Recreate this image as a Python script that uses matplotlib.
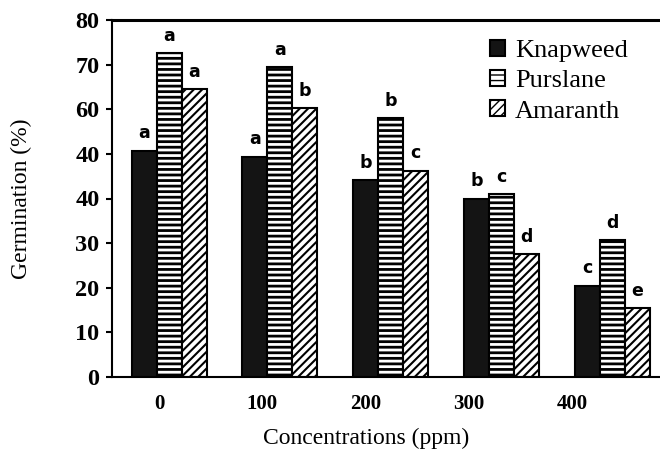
import numpy as np
import matplotlib
matplotlib.use("Agg")
import matplotlib.pyplot as plt

# Data
concentrations = ["0", "100", "200", "300", "400"]
series_names = ["Knapweed", "Purslane", "Amaranth"]
knapweed = [50.7, 49.4, 44.1, 40.0, 20.5]
purslane = [72.5, 69.5, 58.0, 41.0, 30.6]
amaranth = [64.5, 60.3, 46.2, 27.6, 15.4]
letters_knapweed = ["a", "a", "b", "b", "c"]
letters_purslane = ["a", "a", "b", "c", "d"]
letters_amaranth = ["a", "b", "c", "d", "e"]
ytick_values = [0, 10, 20, 30, 40, 50, 60, 70, 80]
ytick_labels = ["0", "10", "20", "30", "40", "40", "60", "70", "80"]

fig = plt.figure(figsize=(6.6, 4.58), dpi=100)
ax = fig.add_axes([112/660, 1-377/458, 548/660, 357/458])

x = np.arange(len(concentrations))
w = 0.226
series = [knapweed, purslane, amaranth]
letters = [letters_knapweed, letters_purslane, letters_amaranth]
styles = [
    dict(facecolor="#141414", edgecolor="black", hatch=None),
    dict(facecolor="white", edgecolor="black", hatch="---"),
    dict(facecolor="white", edgecolor="black", hatch="////"),
]
hatch_lw = [1.0, 2.0, 1.5]
handles = []
for i, (vals, st, name, lets) in enumerate(zip(series, styles, series_names, letters)):
    with plt.rc_context({"hatch.linewidth": hatch_lw[i]}):
        bars = ax.bar(x + (i - 1) * w, vals, width=w, linewidth=1.5, label=name, **st)
    handles.append(bars)
    for b, lt in zip(bars, lets):
        ax.annotate(lt, (b.get_x() + b.get_width() / 2, b.get_height()),
                    xytext=(0, 6), textcoords="offset points", ha="center", va="bottom",
                    fontsize=12.5, fontweight="bold", family="DejaVu Sans")

ax.set_xlim(-0.515, 4.43)
ax.set_ylim(0, 80)
ax.set_yticks(ytick_values)
ax.set_yticklabels(ytick_labels, family="Liberation Serif", fontsize=17.5, fontweight="bold")
ax.set_xticks(x * 0.932 - 0.09)
ax.set_xticklabels(concentrations, family="Liberation Serif", fontsize=15, fontweight="bold")
ax.tick_params(axis="x", length=0, pad=12)
ax.tick_params(axis="y", length=4, width=1.5, pad=5)

for s in ["left", "bottom"]:
    ax.spines[s].set_linewidth(1.5)
ax.spines["top"].set_linewidth(2.2)
ax.spines["right"].set_visible(False)

ax.set_ylabel("Germination (%)", family="Liberation Serif", fontsize=17)
ax.yaxis.set_label_coords(-0.146, 0.5)
xl = ax.set_xlabel("Concentrations (ppm)", family="Liberation Serif", fontsize=17)
ax.xaxis.set_label_coords(0.464, -0.171)
xl.set_va("center")

ax.legend(handles=handles, loc="upper left", bbox_to_anchor=(490/660, 1-40/458),
          bbox_transform=fig.transFigure, frameon=False,
          prop={"family": "Liberation Serif", "size": 19},
          handlelength=0.55, handleheight=0.55, handletextpad=0.4,
          labelspacing=0.3, borderpad=0, borderaxespad=0)

fig.savefig("out.png", dpi=100)
